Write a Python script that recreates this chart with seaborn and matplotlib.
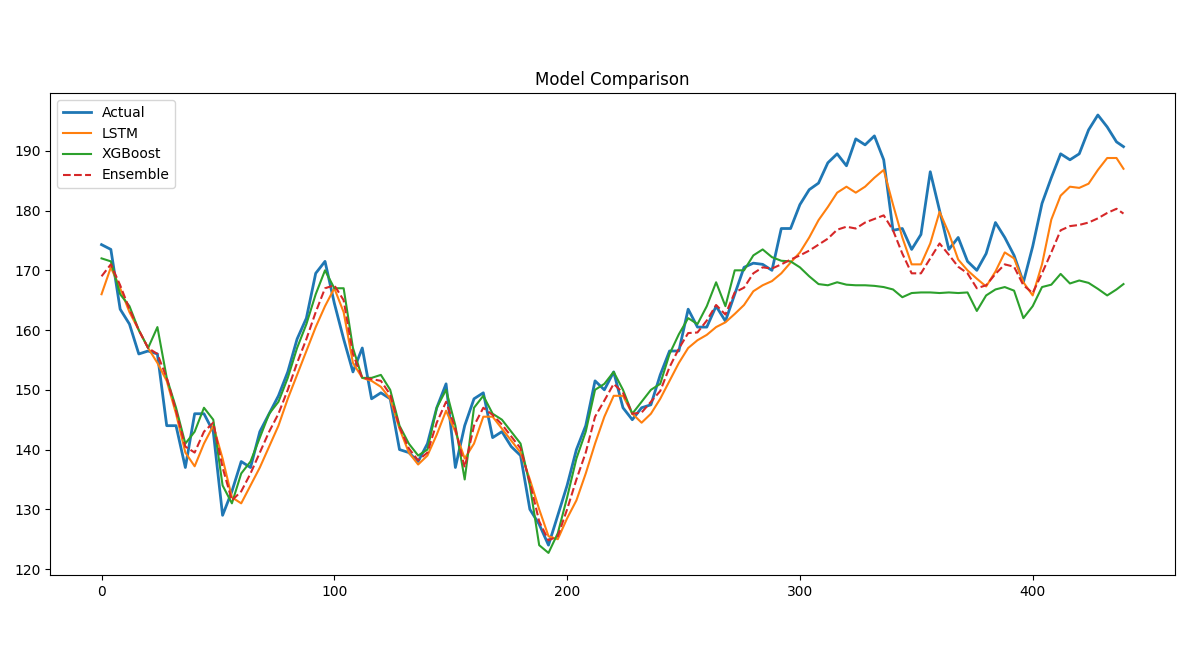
import numpy as np
import pandas as pd
import seaborn as sns
import matplotlib
matplotlib.use('Agg')
import matplotlib.pyplot as plt

##
# values (every 4th step, last point at 439)

steps = list(range(0, 437, 4)) + [439]

actual = [174.3, 173.5, 163.5, 161, 156, 156.5, 156, 144, 144, 137,
          146, 146, 143, 129, 133, 138, 137, 143, 146, 149,
          153, 158.5, 162, 169.5, 171.5, 164.5, 158.5, 153, 157, 148.5,
          149.5, 148.5, 140, 139.5, 138, 141, 147, 151, 137, 144,
          148.5, 149.5, 142, 143, 140.5, 139, 130, 127.5, 124, 129,
          134, 140, 144, 151.5, 150, 153, 147, 145, 147, 147.5,
          152.5, 156.5, 156.5, 163.5, 160.5, 160.5, 164, 161.5, 166, 170.5,
          171.2, 171, 170, 177, 177, 181, 183.5, 184.6, 188, 189.5,
          187.5, 192, 191, 192.5, 188.5, 176.7, 177, 173.5, 176, 186.5,
          180, 173.5, 175.5, 171.5, 170, 172.8, 178, 175.5, 172.5, 168,
          174, 181.2, 185.5, 189.5, 188.5, 189.5, 193.5, 196, 194, 191.5,
          190.7]

lstm = [166, 170.5, 167, 163, 160, 157, 154.5, 151.5, 146, 139.5,
        137.2, 141, 144, 138.5, 132, 131, 134, 137, 140.5, 144,
        148.5, 152.5, 156.5, 160.5, 164, 167, 163, 154.5, 152, 151.5,
        150.5, 148.5, 143.5, 139.5, 137.5, 139, 142.5, 146.5, 143, 138.5,
        141, 145.5, 145.5, 143.5, 141.5, 139.5, 135, 130, 125.5, 125,
        128.5, 131.5, 136, 141, 145.5, 149, 149, 146, 144.5, 146,
        148.5, 151.5, 154.5, 157, 158.3, 159.2, 160.5, 161.3, 162.7, 164.2,
        166.5, 167.5, 168.2, 169.5, 171.3, 173, 175.5, 178.4, 180.6, 183,
        184, 183, 184, 185.5, 186.8, 181, 175.5, 171, 171, 174.5,
        179.8, 176.2, 171.8, 170, 168.6, 167.3, 169.8, 173, 172, 168,
        165.8, 171, 178.5, 182.5, 184, 183.8, 184.5, 186.8, 188.8, 188.8,
        187]

xgboost = [172, 171.5, 166, 164, 160, 157, 160.5, 152, 147, 141,
           143, 147, 145, 134, 131, 136, 138, 142, 146, 148,
           152, 157, 161, 166, 170, 167, 167, 157, 152, 152,
           152.5, 150, 144, 141, 139, 140, 147, 150, 144, 135,
           147, 149, 146, 145, 143, 141, 134, 124, 122.7, 126,
           132, 138.5, 143, 150, 151, 153, 150, 146, 148, 150,
           151, 156, 159.3, 162, 161, 164, 168, 164, 170, 170,
           172.5, 173.5, 172.2, 171.6, 171.5, 170.5, 169, 167.7, 167.5, 168,
           167.6, 167.5, 167.5, 167.4, 167.2, 166.8, 165.5, 166.2, 166.3, 166.3,
           166.2, 166.3, 166.2, 166.3, 163.2, 165.8, 166.8, 167.2, 166.6, 162,
           164, 167.2, 167.6, 169.4, 167.8, 168.3, 167.9, 166.9, 165.8, 166.8,
           167.7]

ensemble = [169, 171, 167.5, 163.5, 160, 157, 156, 152, 146.5, 140.5,
            139.5, 143, 144.5, 137, 131.5, 133, 136, 139.5, 143, 146,
            150, 154.5, 158.5, 163, 167, 167.5, 165, 156, 152, 151.8,
            151.5, 149.2, 143.8, 140.2, 138.2, 139.5, 144.5, 148, 143.5, 137,
            144, 147, 145.8, 144.2, 142.2, 140.2, 134.5, 128, 124.8, 125.5,
            130, 135, 139.5, 145.5, 148.2, 151, 149.5, 146, 146.2, 148,
            149.8, 153.8, 156.9, 159.5, 159.6, 161.6, 164.2, 162.6, 166.3, 167.1,
            169.5, 170.5, 170.3, 171, 171.8, 172.5, 173.3, 174.3, 175.3, 176.8,
            177.3, 177, 178, 178.6, 179.2, 176.7, 172.8, 169.5, 169.5, 172,
            174.5, 172.6, 170.6, 169.5, 167, 167.5, 169.4, 171, 170.6, 167.5,
            166.2, 169.5, 173, 176.7, 177.4, 177.6, 178, 178.7, 179.6, 180.3,
            179.5]

series_names = ['Actual', 'LSTM', 'XGBoost', 'Ensemble']

##
# plot

df = pd.DataFrame({'step': steps, 'Actual': actual, 'LSTM': lstm,
                   'XGBoost': xgboost, 'Ensemble': ensemble})

fig, ax = plt.subplots(figsize=(12.01, 6.51), dpi=100)
fig.subplots_adjust(left=0.042, right=0.978, bottom=0.117, top=0.857)

sns.lineplot(data=df, x='step', y='Actual', ax=ax, color='C0',
             linewidth=2, label='Actual')
sns.lineplot(data=df, x='step', y='LSTM', ax=ax, color='C1',
             linewidth=1.5, label='LSTM')
sns.lineplot(data=df, x='step', y='XGBoost', ax=ax, color='C2',
             linewidth=1.5, label='XGBoost')
sns.lineplot(data=df, x='step', y='Ensemble', ax=ax, color='C3',
             linewidth=1.5, linestyle='--', label='Ensemble')

ax.set_title('Model Comparison')
ax.set_xlabel('')
ax.set_ylabel('')
ax.set_xticks([0, 100, 200, 300, 400])
ax.set_yticks([120, 130, 140, 150, 160, 170, 180, 190])
ax.legend(loc='upper left')

fig.savefig('out.png', dpi=100)
